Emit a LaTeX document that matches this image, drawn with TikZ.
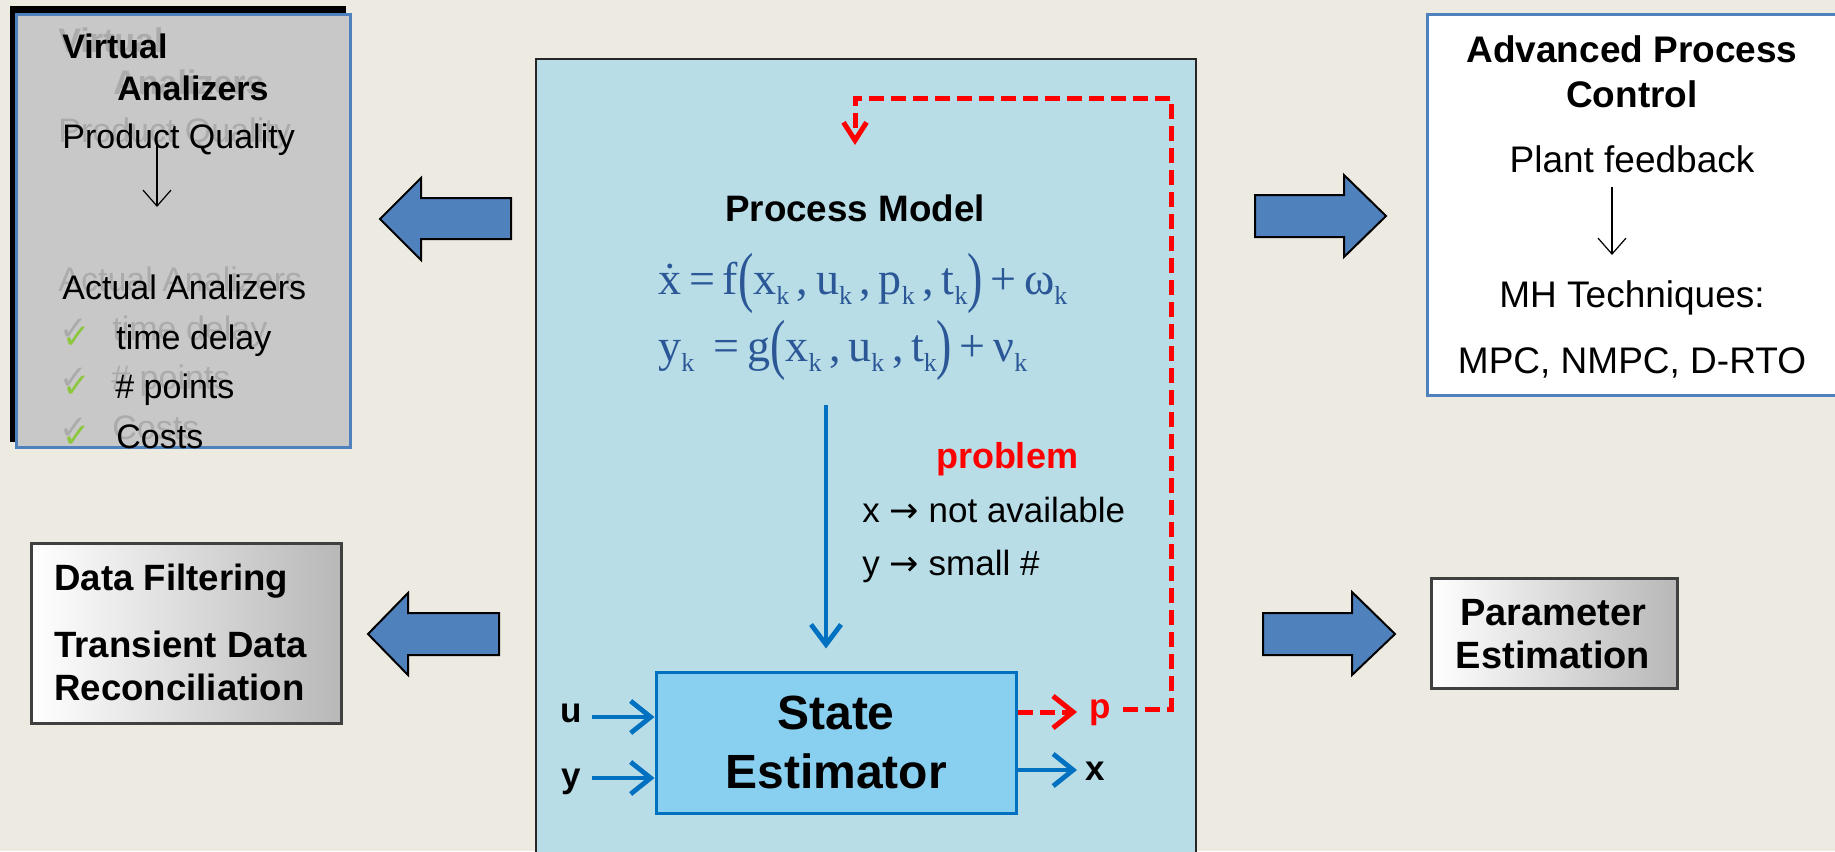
\documentclass[tikz,border=0pt]{standalone}
\usepackage{fontspec}
\setmainfont{Liberation Sans}
\newfontfamily\eqfont{Liberation Serif}
\newfontfamily\symfont{DejaVu Sans}
\usepackage{graphicx}
\usetikzlibrary{arrows.meta}
\definecolor{bg}{HTML}{EDEBE1}
\definecolor{panel}{HTML}{B8DDE7}
\definecolor{seblue}{HTML}{89D0F0}
\definecolor{lineblue}{HTML}{0070C0}
\definecolor{blockblue}{HTML}{4F81BD}
\definecolor{eqblue}{HTML}{2B5797}
\definecolor{chk}{HTML}{8DC63F}
\definecolor{vagray}{HTML}{C8C8C8}
\definecolor{ghostgray}{HTML}{ABABAB}
\newcommand\kk{\raisebox{-0.5ex}{\fontsize{13}{13}\selectfont k}}
\newcommand\bigpar[1]{\raisebox{-0.25ex}{\scalebox{1}[1.45]{#1}}}
\tikzset{
  txt/.style={inner sep=0pt, anchor=base west, font=\fontsize{17}{20}\selectfont},
  btxt/.style={txt, font=\fontsize{17}{20}\selectfont\bfseries},
  ghost/.style={txt, text=ghostgray},
  bghost/.style={btxt, text=ghostgray},
  blockarrow/.style={fill=blockblue, draw=black, line width=1pt, line join=miter},
  thinarrow/.style={draw=black, line width=0.6pt, -{Straight Barb[length=8pt,width=14pt,line width=0.6pt]}},
  blu/.style={draw=lineblue, line width=2.4pt, -{Straight Barb[length=10pt,width=15pt,line width=2.4pt]}},
  reddash/.style={draw=red, line width=2.5pt, dash pattern=on 7.5pt off 3.5pt},
  graybox/.style={left color=white, right color=black!28, draw=black!75, line width=1.5pt},
  lbl/.style={inner sep=0pt, anchor=base, font=\fontsize{17.5}{20}\selectfont\bfseries},
}
\begin{document}
\begin{tikzpicture}[x=0.5pt,y=-0.5pt]
\useasboundingbox (0,0) rectangle (1835,851);
\fill[bg] (0,0) rectangle (1835,851);

% ---------- central panel ----------
\draw[fill=panel, draw=black!85, line width=1pt] (536,59) rectangle (1196,870);

% ---------- Virtual analizers box ----------
\fill[black] (10,6) rectangle (346,442);
\draw[fill=vagray, draw=blockblue, line width=1.5pt] (16,14) rectangle (350,447);
% ghost text
\node[bghost] (gvirt) at (58,52) {Virtual};
\node[bghost] (ganal) at (113,94) {Analizers};
\node[ghost] (gprod) at (58,142) {Product Quality};
\node[ghost] (gact) at (58,291) {Actual Analizers};
\node[ghost] (gtime) at (112,340) {time delay};
\node[ghost] (gpts) at (111,389) {\# points};
\node[ghost] (gcost) at (112,439) {Costs};
\node[txt, text=ghostgray] (gc1) at (59,340) {\symfont ✓};
\node[txt, text=ghostgray] (gc2) at (59,389) {\symfont ✓};
\node[txt, text=ghostgray] (gc3) at (59,439) {\symfont ✓};
% real text
\node[btxt] (virt) at (62,58) {Virtual};
\node[btxt] (anal) at (117,100) {Analizers};
\node[txt] (prod) at (62,148) {Product Quality};
\node[txt] (act) at (62,299) {Actual Analizers};
\node[txt, text=chk] (c1) at (62,348) {\symfont ✓};
\node[txt, text=chk] (c2) at (62,397) {\symfont ✓};
\node[txt, text=chk] (c3) at (62,447) {\symfont ✓};
\node[txt] (time) at (116,349) {time delay};
\node[txt] (pts) at (115,398) {\# points};
\node[txt] (cost) at (116,448) {Costs};
\coordinate (vaA) at (157,145);
\coordinate (vaB) at (157,207);
\draw[thinarrow] (vaA) -- (vaB);

% ---------- Data filtering box ----------
\draw[graybox] (31,543) rectangle (341,723);
\tikzset{dfb/.style={btxt, font=\fontsize{18.3}{21}\selectfont\bfseries}}
\node[dfb] (df1) at (54,590) {Data Filtering};
\node[dfb] (df2) at (54,657) {Transient Data};
\node[dfb] (df3) at (54,700) {Reconciliation};

% ---------- APC box ----------
\fill[white] (1427,14) rectangle (1835,395);
\draw[blockblue, line width=1.5pt] (1836,14) -- (1427,14) -- (1427,395) -- (1836,395);
\tikzset{apc/.style={inner sep=0pt, anchor=base, font=\fontsize{18.5}{22}\selectfont}}
\node[apc, font=\fontsize{18.5}{22}\selectfont\bfseries] (apc1) at (1632,62) {Advanced Process};
\node[apc, font=\fontsize{18.5}{22}\selectfont\bfseries] (apc2) at (1632,107) {Control};
\node[apc] (plant) at (1632,172) {Plant feedback};
\node[apc] (mh) at (1632,307) {MH Techniques:};
\node[apc] (mpc) at (1632,373) {MPC, NMPC, D-RTO};
\coordinate (apA) at (1612,187);
\coordinate (apB) at (1612,255);
\draw[thinarrow] (apA) -- (apB);

% ---------- Parameter estimation box ----------
\draw[graybox] (1431,578) rectangle (1677,688);
\node[inner sep=0pt, anchor=base, font=\fontsize{19}{22}\selectfont\bfseries] (pe1) at (1553,625) {Parameter};
\node[inner sep=0pt, anchor=base, font=\fontsize{19}{22}\selectfont\bfseries] (pe2) at (1553,668) {Estimation};

% ---------- block arrows ----------
\draw[blockarrow] (380,219) -- (421,178) -- (421,198) -- (511,198) -- (511,239) -- (421,239) -- (421,260) -- cycle;
\draw[blockarrow] (1386,216) -- (1344,175) -- (1344,195) -- (1255,195) -- (1255,237) -- (1344,237) -- (1344,257) -- cycle;
\draw[blockarrow] (368,634) -- (408,593) -- (408,613) -- (499,613) -- (499,655) -- (408,655) -- (408,675) -- cycle;
\draw[blockarrow] (1395,634) -- (1352,592) -- (1352,613) -- (1263,613) -- (1263,655) -- (1352,655) -- (1352,675) -- cycle;

% ---------- process model ----------
\node[inner sep=0pt, anchor=base, font=\fontsize{18.4}{21}\selectfont\bfseries] (pm) at (855,221) {Process Model};
\node[inner sep=0pt, anchor=base west, text=eqblue, font=\eqfont\fontsize{23}{26}\selectfont] (eq1) at (658,294)
  {\.{x}\,=\,f\bigpar{(}x\kk\,,\,u\kk\,,\,p\kk\,,\,t\kk\bigpar{)}\,+\,ω\kk};
\node[inner sep=0pt, anchor=base west, text=eqblue, font=\eqfont\fontsize{23}{26}\selectfont] (eq2) at (658,361)
  {y\kk\ \,=\,g\bigpar{(}x\kk\,,\,u\kk\,,\,t\kk\bigpar{)}\,+\,ν\kk};

% problem text
\node[inner sep=0pt, anchor=base, text=red, font=\fontsize{18}{21}\selectfont\bfseries] (prob) at (1007,468) {problem};
\node[inner sep=0pt, anchor=base west, font=\fontsize{17.5}{21}\selectfont] (xna) at (862,522) {x {\symfont →} not available};
\node[inner sep=0pt, anchor=base west, font=\fontsize{17.5}{21}\selectfont] (ysm) at (862,575) {y {\symfont →} small \#};

% ---------- state estimator ----------
\node[draw=lineblue, fill=seblue, line width=1.5pt, minimum width=180pt, minimum height=70.5pt,
      align=center, font=\fontsize{24}{29.5}\selectfont\bfseries, inner sep=0pt] (se) at (836,742.5) {State\\Estimator};

\coordinate (dtop) at (826,405);
\draw[blu] (dtop) -- ([yshift=11pt]se.north -| dtop);

\node[lbl] (ulab) at (571,722) {u};
\node[lbl] (ylab) at (571,787) {y};
\coordinate (uin) at (592,717);
\coordinate (yin) at (592,778);
\draw[blu, -{Straight Barb[length=10pt,width=16pt,line width=2.4pt]}] (uin) -- (se.west |- uin);
\draw[blu, -{Straight Barb[length=10pt,width=16pt,line width=2.4pt]}] (yin) -- (se.west |- yin);

\coordinate (xout) at (1077,770);
\draw[blu, -{Straight Barb[length=10pt,width=16pt,line width=2.4pt]}] (se.east |- xout) -- (xout);
\node[lbl] (xlab) at (1095,780) {x};

\coordinate (pout) at (1077,712);
\draw[reddash, -{Straight Barb[length=10pt,width=16pt,line width=2.5pt]}] (se.east |- pout) -- (pout);
\node[lbl, text=red] (plab) at (1100,718) {p};
\coordinate (pr) at (1123,709);
\coordinate (c1r) at (1171,709);
\coordinate (c2r) at (1171,98);
\coordinate (c3r) at (855,98);
\coordinate (pmtop) at (855,145);
\draw[reddash, -{Straight Barb[length=9pt,width=11.5pt,line width=2.5pt]}] (pr) -- (c1r) -- (c2r) -- (c3r) -- (pmtop);
\end{tikzpicture}
\end{document}
